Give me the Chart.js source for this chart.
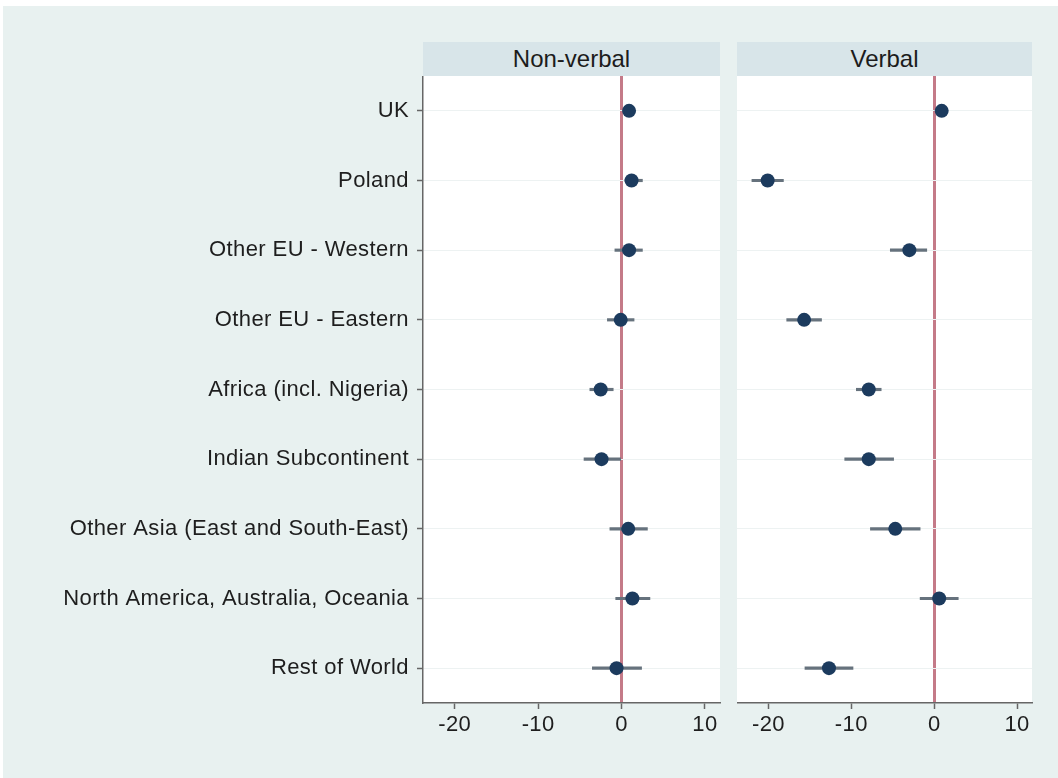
<!DOCTYPE html>
<html>
<head>
<meta charset="utf-8">
<script src="https://cdn.jsdelivr.net/npm/chart.js@4"></script>
<style>
  body { margin: 0; background: #fff; width: 1058px; height: 778px; position: relative; overflow: hidden; font-family: "Liberation Sans", Arial, sans-serif; }
  #bg { position: absolute; left: 3px; top: 6px; right: 0; bottom: 0; background: #e8f1f0; }
  .strip { position: absolute; top: 42px; height: 34px; background: #d8e5e9; color: #1c1c1c; font-size: 24px; line-height: 34px; text-align: center; }
  .box { position: absolute; top: 76px; height: 690px; }
</style>
</head>
<body>
<div id="bg"></div>
<div class="strip" style="left:423px; width:297px;">Non-verbal</div>
<div class="strip" style="left:737px; width:295px;">Verbal</div>
<div class="box" style="left:0; width:722px;"><canvas id="nonVerbalChart"></canvas></div>
<div class="box" style="left:737px; width:310px;"><canvas id="verbalChart"></canvas></div>
<script>
// regions (top to bottom)
const regions = ['UK', 'Poland', 'Other EU - Western', 'Other EU - Eastern', 'Africa (incl. Nigeria)',
  'Indian Subcontinent', 'Other Asia (East and South-East)', 'North America, Australia, Oceania', 'Rest of World'];
const xTicks = [-20, -10, 0, 10];

// coefficients and 95% CI
const nonVerbalEst = [0.9, 1.2, 0.9, -0.1, -2.5, -2.4, 0.8, 1.3, -0.6];
const nonVerbalLow = [0.5, 0.4, -0.8, -1.7, -3.8, -4.5, -1.4, -0.7, -3.5];
const nonVerbalHigh = [1.3, 2.5, 2.5, 1.5, -1.0, -0.1, 3.1, 3.4, 2.4];

const verbalEst = [0.9, -20.1, -3.0, -15.7, -7.9, -7.9, -4.7, 0.6, -12.7];
const verbalLow = [0.5, -22.0, -5.3, -17.8, -9.4, -10.8, -7.7, -1.7, -15.6];
const verbalHigh = [1.3, -18.2, -0.9, -13.6, -6.4, -4.9, -1.7, 2.9, -9.8];

Chart.defaults.font.family = '"Liberation Sans", Arial, sans-serif';
Chart.defaults.color = '#1e1e1e';

const whitePlot = {
  id: 'whitePlot',
  beforeDraw(chart) {
    const a = chart.chartArea, ctx = chart.ctx;
    ctx.save();
    ctx.fillStyle = '#ffffff';
    ctx.fillRect(a.left, a.top, a.right - a.left, a.bottom - a.top);
    ctx.restore();
    // the picture's lettering is a bit wide
    ctx.letterSpacing = '0.4px';
  }
};

function makeChart(id, est, low, high, showLabels, padRight) {
  const ctx = document.getElementById(id).getContext('2d');
  return new Chart(ctx, {
    type: 'bar',
    data: {
      labels: regions,
      datasets: [
        {
          type: 'line',
          data: regions.map((r, i) => ({ x: est[i], y: r })),
          showLine: false,
          pointRadius: 7,
          pointBackgroundColor: '#1c3b5e',
          pointBorderColor: '#1c3b5e',
          pointBorderWidth: 0,
          order: 0
        },
        {
          data: regions.map((r, i) => [low[i], high[i]]),
          backgroundColor: '#66727d',
          barThickness: 2.5,
          borderSkipped: false,
          order: 1
        }
      ]
    },
    options: {
      indexAxis: 'y',
      responsive: true,
      maintainAspectRatio: false,
      animation: false,
      layout: { autoPadding: false, padding: { left: 0, right: padRight, top: 0, bottom: 0 } },
      plugins: { legend: { display: false }, tooltip: { enabled: false } },
      scales: {
        x: {
          type: 'linear',
          min: -23.8,
          max: 11.8,
          afterBuildTicks: s => { s.ticks = xTicks.map(v => ({ value: v })); },
          afterFit: s => { s.height = 63; s.paddingLeft = 0; s.paddingRight = 0; },
          border: { display: true, color: '#666', width: 1.5 },
          grid: {
            color: c => (c.tick && c.tick.value === 0) ? '#c47a88' : 'rgba(0,0,0,0)',
            lineWidth: c => (c.tick && c.tick.value === 0) ? 3 : 1,
            tickColor: '#666',
            tickWidth: 1.5,
            tickLength: 6
          },
          ticks: { font: { size: 22 }, padding: 3, maxRotation: 0 }
        },
        y: {
          type: 'category',
          offset: true,
          afterFit: s => { s.width = showLabels ? 423 : 0; s.paddingTop = 0; s.paddingBottom = 0; },
          border: { display: showLabels, color: '#666', width: 1.5 },
          grid: {
            offset: false,
            color: '#edf2f2',
            lineWidth: 1,
            drawTicks: showLabels,
            tickColor: '#666',
            tickWidth: 1.5,
            tickLength: 6
          },
          ticks: { display: showLabels, font: { size: 22 }, padding: 8 }
        }
      }
    },
    plugins: [whitePlot]
  });
}

makeChart('nonVerbalChart', nonVerbalEst, nonVerbalLow, nonVerbalHigh, true, 2);
makeChart('verbalChart', verbalEst, verbalLow, verbalHigh, false, 15);
</script>
</body>
</html>
